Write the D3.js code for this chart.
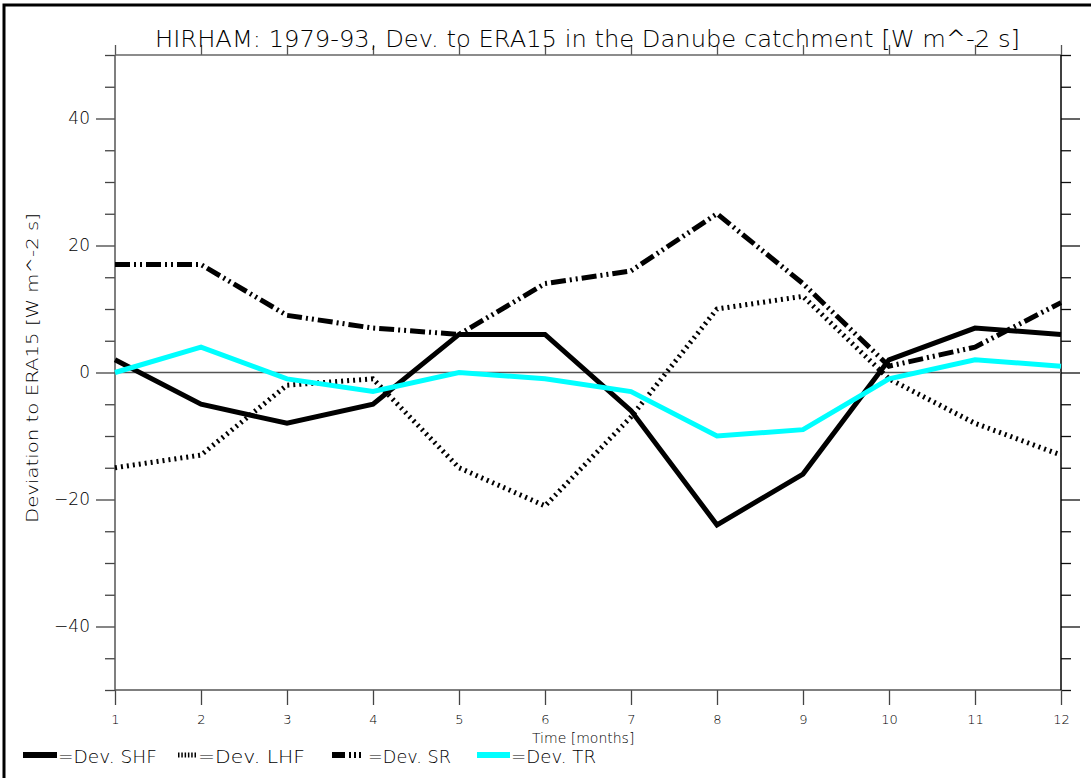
<!DOCTYPE html>
<html>
<head>
<meta charset="utf-8">
<script src="https://cdn.jsdelivr.net/npm/d3@7"></script>
<style>
  body { margin: 0; background: #fff; }
  svg text { font-family: 'DejaVu Sans', sans-serif; font-weight: 300; fill: #000; }
</style>
</head>
<body>
<svg id="chart" width="1091" height="778"></svg>
<script>
	// months on the x axis
	var months = [1, 2, 3, 4, 5, 6, 7, 8, 9, 10, 11, 12];
	// deviations to ERA15 [W m^-2 s]
	var devSHF = [2, -5, -8, -5, 6, 6, -6, -24, -16, 2, 7, 6];
	var devLHF = [-15, -13, -2, -1, -15, -21, -7, 10, 12, -1, -8, -13];
	var devSR = [17, 17, 9, 7, 6, 14, 16, 25, 14, 1, 4, 11];
	var devTR = [0, 4, -1, -3, 0, -1, -3, -10, -9, -1, 2, 1];
	var yMajorTicks = [-40, -20, 0, 20, 40];
	var seriesNames = ['=Dev. SHF', '=Dev. LHF', '=Dev. SR', '=Dev. TR'];

(function () {
	'use strict';
	var margin = {top: 55, right: 30, bottom: 88, left: 115},
		width = 1091 - margin.left - margin.right,
		height = 778 - margin.top - margin.bottom;

	var svg = d3.select('#chart');

	// outer frame (runs off the picture right and bottom)
	svg.append('path')
		.attr('d', 'M4,778V5H1091')
		.attr('fill', 'none')
		.attr('stroke', '#000')
		.attr('stroke-width', 3);

	var g = svg.append('g')
		.attr('transform', 'translate(' + margin.left + ',' + margin.top + ')');

	var x = d3.scaleLinear().domain([1, 12]).range([0, width]);
	var y = d3.scaleLinear().domain([-50, 50]).range([height, 0]);

	var minorTicks = d3.range(-50, 51, 5).filter(function (v) {
		return yMajorTicks.indexOf(v) < 0;
	});

	function styleAxis(sel, colour) {
		sel.selectAll('path, line').attr('stroke', colour).attr('stroke-width', 1.3);
		sel.select('.domain').remove();
	}

	// left axis
	var leftMinor = g.append('g').call(d3.axisLeft(y).tickValues(minorTicks).tickSize(10).tickFormat(''));
	styleAxis(leftMinor, '#444');
	var leftMajor = g.append('g').call(d3.axisLeft(y).tickValues(yMajorTicks).tickSize(19).tickPadding(6)
		.tickFormat(function (d) { return d < 0 ? '\u2212' + Math.abs(d) : d; }));
	styleAxis(leftMajor, '#444');
	leftMajor.selectAll('text').attr('font-size', 17).attr('font-family', 'DejaVu Sans').attr('fill', '#000');

	// right axis
	var rightMinor = g.append('g').attr('transform', 'translate(' + width + ',0)')
		.call(d3.axisRight(y).tickValues(minorTicks).tickSize(10).tickFormat(''));
	styleAxis(rightMinor, '#111');
	var rightMajor = g.append('g').attr('transform', 'translate(' + width + ',0)')
		.call(d3.axisRight(y).tickValues(yMajorTicks).tickSize(19).tickFormat(''));
	styleAxis(rightMajor, '#111');

	// top and bottom axes
	var topAxis = g.append('g').call(d3.axisTop(x).tickValues(months).tickSize(10).tickFormat(''));
	styleAxis(topAxis, '#555');
	var bottomAxis = g.append('g').attr('transform', 'translate(0,' + height + ')')
		.call(d3.axisBottom(x).tickValues(months).tickSize(15).tickPadding(10).tickFormat(d3.format('d')));
	styleAxis(bottomAxis, '#444');
	bottomAxis.selectAll('text').attr('font-size', 13).attr('font-family', 'DejaVu Sans').attr('fill', '#000');

	// frame lines of the plot
	g.append('line').attr('x1', 0).attr('x2', width).attr('y1', 0).attr('y2', 0)
		.attr('stroke', '#666').attr('stroke-width', 1.5);
	g.append('line').attr('x1', 0).attr('x2', width).attr('y1', height).attr('y2', height)
		.attr('stroke', '#555').attr('stroke-width', 1.5);
	g.append('line').attr('x1', 0).attr('x2', 0).attr('y1', 0).attr('y2', height)
		.attr('stroke', '#555').attr('stroke-width', 1.5);
	g.append('line').attr('x1', width).attr('x2', width).attr('y1', 0).attr('y2', height)
		.attr('stroke', '#000').attr('stroke-width', 1.5);
	// zero line
	g.append('line').attr('x1', 0).attr('x2', width).attr('y1', y(0)).attr('y2', y(0))
		.attr('stroke', '#555').attr('stroke-width', 1.3);

	var series = [
		{name: seriesNames[0], values: devSHF, colour: '#000', dash: null},
		{name: seriesNames[1], values: devLHF, colour: '#000', dash: '2,4'},
		{name: seriesNames[2], values: devSR, colour: '#000', dash: '15,4,2,4,2,4'},
		{name: seriesNames[3], values: devTR, colour: '#00ffff', dash: null}
	];

	var line = d3.line()
		.x(function (d, i) { return x(months[i]); })
		.y(function (d) { return y(d); });

	series.forEach(function (s) {
		g.append('path')
			.datum(s.values)
			.attr('fill', 'none')
			.attr('stroke', s.colour)
			.attr('stroke-width', 5)
			.attr('stroke-dasharray', s.dash)
			.attr('stroke-linejoin', 'miter')
			.attr('d', line);
	});

	// title
	svg.append('text')
		.attr('x', 155).attr('y', 47)
		.attr('font-size', 23)
		.attr('textLength', 865)
		.attr('lengthAdjust', 'spacingAndGlyphs')
		.text('HIRHAM: 1979-93, Dev. to ERA15 in the Danube catchment [W m^-2 s]');

	// axis titles
	svg.append('text')
		.attr('transform', 'translate(38,368) rotate(-90)')
		.attr('text-anchor', 'middle')
		.attr('font-size', 16)
		.attr('textLength', 310)
		.attr('lengthAdjust', 'spacingAndGlyphs')
		.text('Deviation to ERA15 [W m^-2 s]');
	svg.append('text')
		.attr('x', 532).attr('y', 743)
		.attr('font-size', 14)
		.text('Time [months]');

	// legend along the bottom
	var legendX = [23, 178, 332, 477];
	var legendW = [34, 19, 35, 33];
	var legendTextW = [99, 107, 83, 85];
	var legendDash = [null, '1.5,1.8', '13,4,2,3,2,3,2', null];
	series.forEach(function (s, i) {
		svg.append('line')
			.attr('x1', legendX[i]).attr('x2', legendX[i] + legendW[i])
			.attr('y1', 755).attr('y2', 755)
			.attr('stroke', s.colour)
			.attr('stroke-width', i === 1 ? 5 : 6)
			.attr('stroke-dasharray', legendDash[i]);
		svg.append('text')
			.attr('x', legendX[i] + legendW[i] + 1).attr('y', 763)
			.attr('font-size', 18)
			.attr('textLength', legendTextW[i])
			.attr('lengthAdjust', 'spacingAndGlyphs')
			.text(s.name);
	});
})();
</script>
</body>
</html>
